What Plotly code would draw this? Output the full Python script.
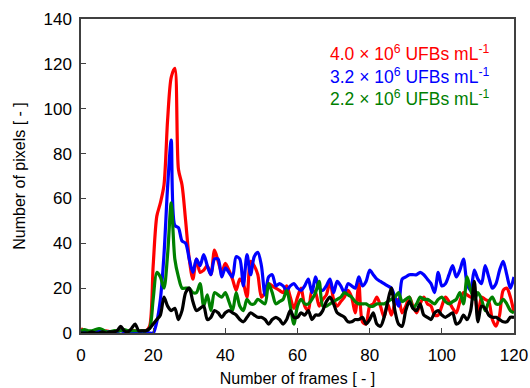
import plotly.graph_objects as go

frames = list(range(0, 121))

red = [2, 1, 0.5, 0.5, 1, 0.5, 0.5, 1, 0.5, 0.5,
       1, 1.5, 0.5, 1, 1, 1, 0.5, 1, 1, 3,
       30, 52, 58, 66, 95, 114, 118, 73, 66, 50,
       33, 24, 33, 27, 28, 30, 26, 37, 32, 27,
       31, 28, 24, 19, 24, 22, 16, 32, 30, 26,
       16, 18, 22, 21, 20, 19, 18, 21, 16, 11,
       16, 20, 12, 10, 19, 18, 12, 15, 17, 23,
       15, 12, 14, 16, 19, 16, 9, 22, 5, 4,
       12, 13, 16, 12, 7, 13, 8, 13, 15, 9,
       12, 16, 12, 9, 13, 16, 13, 12, 8, 8,
       12, 16, 14, 11, 9, 14, 18, 17, 16, 17,
       8, 16, 15, 14, 6, 3, 8, 19, 20, 16,
       9]

blue = [0.5, 0.5, 0.5, 0.5, 0.5, 1, 0.5, 0.5, 0.5, 0.5,
        0.5, 1, 0.5, 0.5, 0.5, 0.5, 0.5, 0.5, 0.5, 0,
        0, 5, 15, 35, 65, 86, 48, 47, 41, 40,
        33, 27, 33, 30, 35, 30, 26, 33, 33, 25,
        29, 27, 25, 34, 33, 21, 35, 26, 34, 36,
        30, 17, 25, 26, 21, 22, 21, 19, 21, 22,
        20, 19, 21, 24, 18, 25, 20, 19, 21, 24,
        18, 23, 21, 18, 22, 21, 20, 25, 21, 23,
        28, 26, 24, 23, 22, 21, 20, 16, 12, 24,
        25, 26, 26, 26, 27, 26, 24, 22, 18, 27,
        21, 22, 26, 30, 25, 28, 33, 22, 19, 28,
        24, 22, 30, 25, 20, 22, 28, 32, 26, 20,
        25]

green = [1, 1.5, 1, 1, 1.5, 2, 1.5, 0.5, 0.5, 1,
         1, 1, 1.5, 1, 1, 1, 1, 1, 1, 2,
         15, 27, 25, 20, 35, 58, 33, 25, 20, 20,
         20, 18, 18, 22, 12, 17, 10, 18, 17, 16,
         18, 14, 10, 18, 12, 10, 15, 13, 13, 15,
         14, 13, 22, 18, 13, 14, 15, 19, 12, 4,
         12, 15, 13, 13, 15, 18, 23, 12, 12, 13,
         14, 15, 16, 18, 17, 16, 14, 13, 13, 13,
         12, 12, 13, 13, 13, 14, 15, 16, 18, 14,
         15, 16, 11, 13, 16, 15, 15, 14, 13, 15,
         16, 14, 13, 14, 15, 18, 13, 25, 19, 15,
         18, 15, 10, 14, 16, 13, 13, 15, 13, 10,
         9]

black = [0, 0, 0, 0.5, 0, 0, 0.5, 0, 0.5, 0.5,
         1, 3, 1, 0.5, 2, 4, 1, 1, 1, 2,
         4, 6, 8, 16, 12, 10, 11, 6, 10, 18,
         20, 14, 10, 11, 12, 6, 7, 10, 9, 7,
         9, 10, 9, 8, 6, 5, 7, 9, 8, 7,
         7, 6, 4, 6, 7, 6, 4, 6, 10, 7,
         7, 9, 8, 10, 6, 8, 8, 10, 14, 16,
         13, 9, 8, 7, 5, 5, 6, 6, 7, 4,
         6, 9, 4, 3, 7, 14, 20, 10, 4, 3,
         10, 14, 11, 10, 13, 8, 7, 6, 9, 10,
         8, 7, 8, 9, 4, 5, 8, 6, 10, 23,
         5, 12, 11, 8, 7, 7, 6, 5, 5, 7,
         7]

series = [
    ("4.0 × 10<sup>6</sup> UFBs mL<sup>-1</sup>", red, "#ff0000"),
    ("3.2 × 10<sup>6</sup> UFBs mL<sup>-1</sup>", blue, "#0000ff"),
    ("2.2 × 10<sup>6</sup> UFBs mL<sup>-1</sup>", green, "#008000"),
    ("blank", black, "#000000"),
]

x_ticks = [0, 20, 40, 60, 80, 100, 120]
y_ticks = [0, 20, 40, 60, 80, 100, 120, 140]

font_family = "Liberation Sans, Arial, sans-serif"

fig = go.Figure()
for name, vals, col in series:
    fig.add_trace(go.Scatter(
        x=frames, y=vals, mode="lines", name=name,
        line=dict(color=col, width=3.2, shape="spline", smoothing=0.8),
        showlegend=False,
    ))

# legend as coloured text
legend_y = [0.892, 0.820, 0.748]
for (name, vals, col), yy in zip(series[:3], legend_y):
    fig.add_annotation(
        text=name, xref="paper", yref="paper", x=0.947, y=yy,
        xanchor="right", yanchor="middle", showarrow=False,
        font=dict(color=col, size=17.5, family=font_family),
    )

axis_common = dict(
    showline=True, linecolor="#404040", linewidth=1.5, mirror=True,
    ticks="inside", ticklen=5, tickwidth=1.2, tickcolor="#404040",
    showgrid=False, zeroline=False, automargin=False,
    tickfont=dict(size=17, color="#000000", family=font_family),
)

fig.update_xaxes(
    range=[0, 120], tickvals=x_ticks, ticklabelstandoff=6,
    title=dict(text="Number of frames [ - ]", font=dict(size=16, color="#000000", family=font_family), standoff=9),
    **axis_common,
)
fig.update_yaxes(
    range=[0, 140], tickvals=y_ticks, ticklabelstandoff=4,
    title=dict(text="Number of pixels [ - ]", font=dict(size=16, color="#000000", family=font_family), standoff=14),
    **axis_common,
)

fig.update_layout(
    width=530, height=388,
    margin=dict(l=81, r=16, t=19, b=55),
    paper_bgcolor="white", plot_bgcolor="white",
    font=dict(family=font_family),
)

fig.write_html("out.html")
